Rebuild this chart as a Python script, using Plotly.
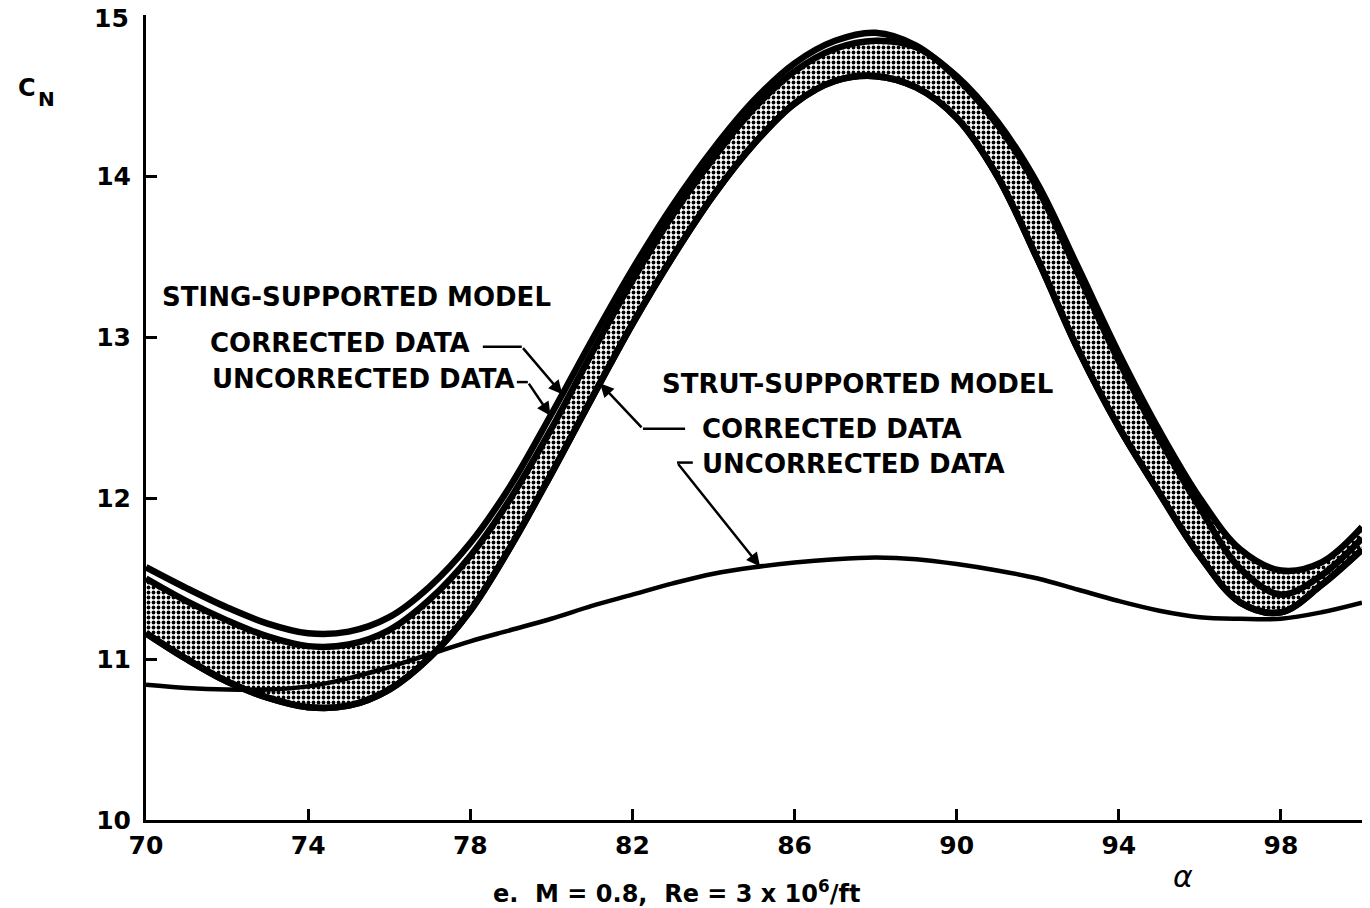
import numpy as np
import plotly.graph_objects as go

# ---- data ----
alpha = list(range(70, 101))

sting_corrected = [11.57, 11.44, 11.32, 11.22, 11.16, 11.17, 11.26, 11.45, 11.72, 12.08,
                   12.52, 12.98, 13.42, 13.82, 14.17, 14.47, 14.70, 14.84, 14.89, 14.81,
                   14.61, 14.32, 13.92, 13.39, 12.85, 12.37, 11.94, 11.56, 11.40, 11.52, 11.75]

sting_uncorrected = [11.50, 11.36, 11.24, 11.14, 11.08, 11.09, 11.18, 11.37, 11.64, 12.00,
                     12.43, 12.90, 13.35, 13.76, 14.11, 14.42, 14.65, 14.79, 14.84, 14.80,
                     14.62, 14.34, 13.95, 13.43, 12.90, 12.42, 12.00, 11.68, 11.55, 11.60, 11.82]

strut_corrected = [11.16, 11.00, 10.86, 10.76, 10.70, 10.71, 10.81, 11.01, 11.30, 11.70,
                   12.15, 12.62, 13.08, 13.50, 13.88, 14.20, 14.45, 14.59, 14.62, 14.55,
                   14.36, 14.00, 13.48, 12.92, 12.44, 12.03, 11.64, 11.35, 11.29, 11.46, 11.68]

strut_uncorrected = [10.84, 10.82, 10.81, 10.81, 10.83, 10.88, 10.95, 11.03, 11.11, 11.18,
                     11.25, 11.33, 11.40, 11.47, 11.53, 11.57, 11.60, 11.62, 11.63, 11.62,
                     11.59, 11.55, 11.50, 11.43, 11.36, 11.30, 11.26, 11.25, 11.25, 11.29, 11.35]

x_ticks = [70, 74, 78, 82, 86, 90, 94, 98]
y_ticks = [10, 11, 12, 13, 14, 15]
y_tick_text = ["10", "11", "12", "13", "14", ""]   # "15" drawn just below the axis top
top_label = "15"

FONT = "DejaVu Sans"
BAND_W = 6.5

fig = go.Figure()

# strut corrected (lower edge of shaded band)
fig.add_trace(go.Scatter(x=alpha, y=strut_corrected, mode="lines",
                         line=dict(color="black", width=BAND_W, shape="spline"),
                         hoverinfo="skip"))
# sting uncorrected, shaded down to strut corrected
fig.add_trace(go.Scatter(x=alpha, y=sting_uncorrected, mode="lines",
                         line=dict(color="black", width=BAND_W, shape="spline"),
                         fill="tonexty", fillcolor="white",
                         fillpattern=dict(shape=".", fgcolor="black", bgcolor="white",
                                          size=5, solidity=0.45),
                         hoverinfo="skip"))
# redraw lower edge on top of the fill
fig.add_trace(go.Scatter(x=alpha, y=strut_corrected, mode="lines",
                         line=dict(color="black", width=BAND_W, shape="spline"),
                         hoverinfo="skip"))
# sting corrected
fig.add_trace(go.Scatter(x=alpha, y=sting_corrected, mode="lines",
                         line=dict(color="black", width=BAND_W, shape="spline"),
                         hoverinfo="skip"))
# strut uncorrected
fig.add_trace(go.Scatter(x=alpha, y=strut_uncorrected, mode="lines",
                         line=dict(color="black", width=4.5, shape="spline"),
                         hoverinfo="skip"))

tfont = dict(family=FONT, size=26, color="black", weight="bold")

labels = [
    ("STING-SUPPORTED MODEL", 70.35, 13.25),
    ("CORRECTED DATA", 71.53, 12.96),
    ("UNCORRECTED DATA", 71.58, 12.74),
    ("STRUT-SUPPORTED MODEL", 82.68, 12.71),
    ("CORRECTED DATA", 83.67, 12.43),
    ("UNCORRECTED DATA", 83.67, 12.21),
]
annotations = []
for txt, xx, yy in labels:
    annotations.append(dict(text=txt, x=xx, y=yy, xref="x", yref="y",
                            xanchor="left", yanchor="middle", showarrow=False,
                            font=tfont))

def on(curve, a):
    return float(np.interp(a, alpha, curve))

# leader lines: (start of horizontal, bend point, tip alpha, curve)
leaders = [
    ((78.31, 12.94), (79.27, 12.94), 80.27, sting_corrected),
    ((79.15, 12.72), (79.42, 12.72), 79.98, sting_corrected),
    ((83.30, 12.43), (82.26, 12.43), 81.20, strut_corrected),
    ((83.49, 12.22), (83.10, 12.22), 85.15, strut_uncorrected),
]
shapes = []
for (x0, y0), (x1, y1), ta, crv in leaders:
    shapes.append(dict(type="line", xref="x", yref="y", x0=x0, y0=y0, x1=x1, y1=y1,
                       line=dict(color="black", width=2.5)))
    annotations.append(dict(x=ta, y=on(crv, ta), ax=x1, ay=y1, xref="x", yref="y",
                            axref="x", ayref="y", text="", showarrow=True,
                            arrowhead=2, arrowsize=1.1, arrowwidth=2.5,
                            arrowcolor="black", standoff=0))

tick_font = dict(family=FONT, size=25, color="black", weight="bold")

# axis titles, top tick label and caption
annotations += [
    dict(text=top_label, x=-0.0125, y=0.9955, xref="paper", yref="paper", showarrow=False,
         xanchor="right", yanchor="middle", font=tick_font),
    dict(text="C", x=-0.0979, y=0.909, xref="paper", yref="paper", showarrow=False,
         xanchor="center", yanchor="middle",
         font=dict(family=FONT, size=24, color="black", weight="bold")),
    dict(text="N", x=-0.0822, y=0.896, xref="paper", yref="paper", showarrow=False,
         xanchor="center", yanchor="middle",
         font=dict(family=FONT, size=20, color="black", weight="bold")),
    dict(text="<i>α</i>", x=0.853, y=-0.0696, xref="paper", yref="paper", showarrow=False,
         xanchor="center", yanchor="middle",
         font=dict(family=FONT, size=30, color="black")),
    dict(text="e.  M = 0.8,  Re = 3 x 10<sup>6</sup>/ft", x=0.436, y=-0.09,
         xref="paper", yref="paper", showarrow=False,
         xanchor="center", yanchor="middle",
         font=dict(family=FONT, size=24, color="black", weight="bold")),
]

axis_common = dict(showline=True, linewidth=3, linecolor="black", mirror=False,
                   showgrid=False, zeroline=False, ticks="inside", ticklen=11,
                   tickwidth=2.5, tickcolor="black", automargin=False,
                   ticklabeloverflow="allow", tickfont=tick_font)

# the page body adds an 8 px offset, so the figure is 8 px smaller on each axis
fig.update_layout(
    template="none",
    width=1362, height=900,
    margin=dict(l=138, r=8, t=7, b=88),
    paper_bgcolor="white", plot_bgcolor="white",
    showlegend=False,
    xaxis=dict(range=[70, 100], tickvals=x_ticks, ticklabelstandoff=1, **axis_common),
    yaxis=dict(range=[10, 15], tickvals=y_ticks, ticktext=y_tick_text,
               ticklabelstandoff=7, **axis_common),
    annotations=annotations,
    shapes=shapes,
)

fig.write_html("out.html")
